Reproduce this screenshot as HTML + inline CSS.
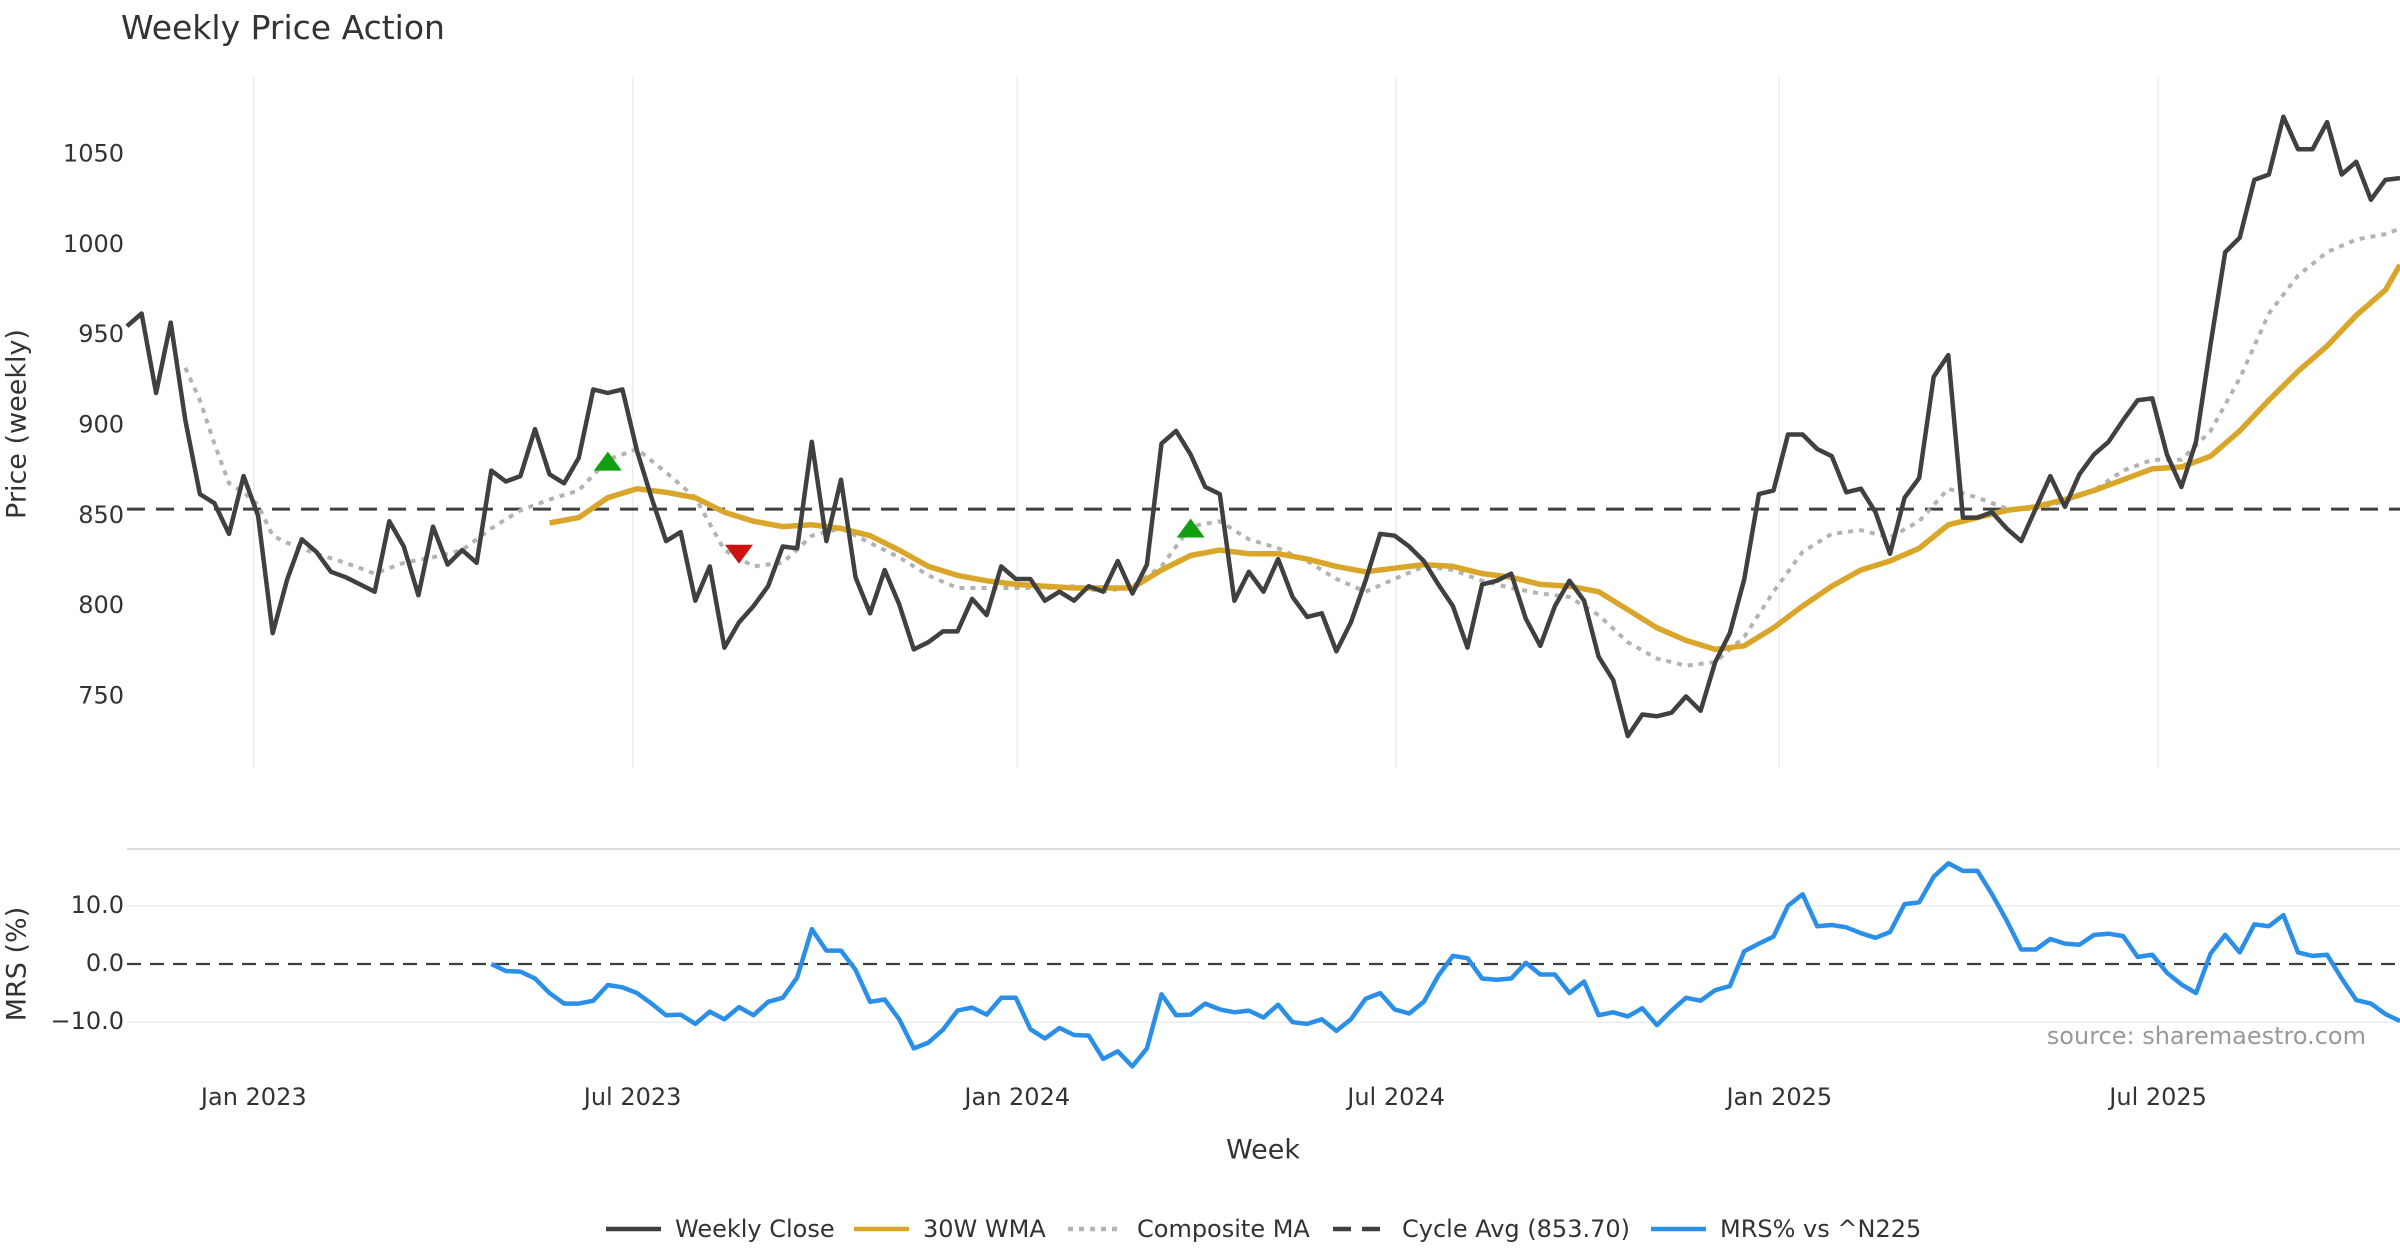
<!DOCTYPE html>
<html><head><meta charset="utf-8"><title>Weekly Price Action</title>
<style>
html,body{margin:0;padding:0;background:#fff;}
svg{display:block;font-family:"DejaVu Sans","Liberation Sans",sans-serif;}
</style></head>
<body>
<svg id="chart" width="2400" height="1260" viewBox="0 0 2400 1260" xmlns="http://www.w3.org/2000/svg">
<rect x="0" y="0" width="2400" height="1260" fill="#fff"/>
<text x="121" y="39" font-size="33" fill="#333">Weekly Price Action</text>
<g id="grid"></g>
<g id="price"></g>
<g id="mrs"></g>
<g id="axes"></g>
<text x="18" y="424" font-size="27" fill="#333" text-anchor="middle" dominant-baseline="middle" transform="rotate(-90 18 424)">Price (weekly)</text>
<text x="18" y="964" font-size="27" fill="#333" text-anchor="middle" dominant-baseline="middle" transform="rotate(-90 18 964)">MRS (%)</text>
<text x="1263" y="1151" font-size="27" fill="#333" text-anchor="middle" dominant-baseline="middle">Week</text>
<text x="2366" y="1037" font-size="24" fill="#999" text-anchor="end" dominant-baseline="middle">source: sharemaestro.com</text>
<g id="legend"></g>
</svg>
<script>
const closes = [955,962,918,957,903,862,857,840,872,850,
785,815,837,830,819,816,812,808,847,833,
806,844,823,831,824,875,869,872,898,873,
868,882,920,918,920,886,860,836,841,803,
822,777,791,800,811,833,832,891,836,870,
816,796,820,801,776,780,786,786,804,795,
822,815,815,803,808,803,811,808,825,807,
823,890,897,884,866,862,803,819,808,826,
805,794,796,775,791,814,840,839,833,825,
812,800,777,812,814,818,793,778,800,814,
803,772,759,728,740,739,741,750,742,769,
785,815,862,864,895,895,887,883,863,865,
852,829,860,871,927,939,849,849,852,843,
836,854,872,855,873,884,891,903,914,915,
884,866,891,945,996,1004,1036,1039,1071,1053,
1053,1068,1039,1046,1025,1036,1037];
const wmaStart = 29;
const wmaStep = 2;
const wma = [846,849,860,865,863,860,852,847,844,845,843,839,831,822,817,814,812,811,810,810,810,820,828,831,829,829,826,822,819,821,823,822,818,816,812,811,808,798,788,781,776,778,788,800,811,820,825,832,845,849,853,855,859,864,870,876,877,883,897,914,930,944,961,975,989];
const compWeeks = [4,5,6,7,8,9,10,11,13,15,17,19,21,23,25,27,29,31,33,35,37,39,41,43,45,47,49,51,53,55,57,59,61,63,65,67,69,71,73,75,77,79,81,83,85,87,89,91,93,95,97,99,101,103,105,107,109,111,113,115,117,119,121,123,125,127,129,131,133,135,137,139,141,143,145,147,149,151,153,155,156];
const compVals = [932,914,890,868,863,856,839,835,829,824,818,824,827,831,843,853,859,864,881,887,874,860,831,822,824,839,843,835,827,817,810,810,810,810,811,808,811,822,844,847,837,832,825,815,808,815,822,820,814,810,807,805,795,780,771,767,769,783,808,830,840,842,838,847,865,860,854,854,858,864,875,881,881,897,926,962,983,996,1003,1006,1009];
const mrsStart = 25;
const mrs = [0,-1.2,-1.3,-2.5,-5,-6.8,-6.8,-6.3,-3.6,-4,-5,-6.8,-8.8,-8.7,-10.3,-8.2,-9.5,-7.4,-8.8,-6.5,-5.8,-2.3,6,2.3,2.3,-1,-6.5,-6.1,-9.5,-14.5,-13.5,-11.3,-8,-7.5,-8.7,-5.8,-5.8,-11.2,-12.8,-11,-12.2,-12.3,-16.3,-15,-17.6,-14.5,-5.2,-8.8,-8.7,-6.8,-7.8,-8.3,-8,-9.2,-7,-10,-10.3,-9.5,-11.5,-9.5,-6,-5,-7.8,-8.5,-6.5,-2,1.4,1,-2.5,-2.7,-2.5,0.2,-1.8,-1.8,-5,-3,-8.8,-8.3,-9,-7.6,-10.5,-8,-5.8,-6.3,-4.5,-3.8,2.2,3.5,4.7,10,12,6.5,6.7,6.3,5.3,4.5,5.5,10.3,10.6,15,17.3,16,16,12,7.5,2.5,2.5,4.3,3.5,3.3,5,5.2,4.8,1.2,1.6,-1.5,-3.5,-5,1.8,5,2,6.8,6.5,8.4,2,1.4,1.6,-2.5,-6.2,-6.8,-8.6,-9.8];
const cycleAvg = 853.70;
const priceTicks = [750,800,850,900,950,1000,1050];
const mrsTicks = [10,0,-10];
const mrsTickLabels = ["10.0","0.0","\u221210.0"];
const dateTickWeeks = [8.7,34.7,61.1,87.1,113.4,139.4];
const dateTickLabels = ["Jan 2023","Jul 2023","Jan 2024","Jul 2024","Jan 2025","Jul 2025"];
const buyWeeks = [33,73];
const buyVals = [880,843];
const sellWeeks = [42];
const sellVals = [829];

const NS = "http://www.w3.org/2000/svg";
const X0 = 127, X1 = 2400, N = closes.length;
function xs(i){ return X0 + i*(X1-X0)/(N-1); }
function yp(v){ return 154.6 + (1050 - v)*1.806; }
function ym(v){ return 964 - v*5.82; }
function mk(tag, attrs, parent){
  const e = document.createElementNS(NS, tag);
  for (const k in attrs) e.setAttribute(k, attrs[k]);
  parent.appendChild(e); return e;
}
const grid = document.getElementById('grid');
const price = document.getElementById('price');
const mrsG = document.getElementById('mrs');
const axes = document.getElementById('axes');
const legend = document.getElementById('legend');

// vertical grid + date labels
dateTickWeeks.forEach((w, k) => {
  const x = xs(w);
  const l = mk('line', {x1:x, x2:x, y1:77, y2:768, stroke:'#ececec', 'stroke-width':1.5}, grid);
  
  
  const t = mk('text', {x:x, y:1098, 'font-size':24, fill:'#333', 'text-anchor':'middle', 'dominant-baseline':'middle'}, axes);
  t.textContent = dateTickLabels[k];
  
  
});
// price ticks
priceTicks.forEach(v => {
  const t = mk('text', {x:124, y:yp(v), 'font-size':24, fill:'#333', 'text-anchor':'end', 'dominant-baseline':'middle'}, axes);
  t.textContent = v;
  
  
});
// mrs panel top spine
const sp = mk('line', {x1:X0, x2:X1, y1:849, y2:849, stroke:'#cfcfcf', 'stroke-width':1.5}, grid);


mrsTicks.forEach((v, k) => {
  if (v !== 0) {
    const g = mk('line', {x1:X0, x2:X1, y1:ym(v), y2:ym(v), stroke:'#ececec', 'stroke-width':1.5}, grid);
    
    
  }
  const t = mk('text', {x:124, y:ym(v), 'font-size':24, fill:'#333', 'text-anchor':'end', 'dominant-baseline':'middle'}, axes);
  t.textContent = mrsTickLabels[k];
  
  
});
const zl = mk('line', {x1:X0, x2:X1, y1:ym(0), y2:ym(0), stroke:'#404040', 'stroke-width':2.3, 'stroke-dasharray':'14,9'}, mrsG);



// cycle avg
const ca = mk('line', {x1:X0, x2:X1, y1:yp(cycleAvg), y2:yp(cycleAvg), stroke:'#404040', 'stroke-width':3, 'stroke-dasharray':'18,11'}, price);



function poly(pts, attrs, parent, name){
  const p = mk('polyline', Object.assign({points: pts.map(p=>p[0].toFixed(1)+','+p[1].toFixed(1)).join(' '), fill:'none', 'stroke-linejoin':'round'}, attrs), parent);
  
  
  return p;
}
poly(compWeeks.map((w,k)=>[xs(w), yp(compVals[k])]), {stroke:'#b3b3b3', 'stroke-width':4, 'stroke-dasharray':'5,6'}, price, 'composite-ma-line');
poly(wma.map((v,k)=>[xs(Math.min(wmaStart + k*wmaStep, N-1)), yp(v)]), {stroke:'#d9a62a', 'stroke-width':5.5}, price, 'wma-30w-line');
poly(closes.map((v,i)=>[xs(i), yp(v)]), {stroke:'#404040', 'stroke-width':4.5}, price, 'weekly-close-line');
poly(mrs.map((v,k)=>[xs(mrsStart + k), ym(v)]), {stroke:'#2a8fe8', 'stroke-width':4.5}, mrsG, 'mrs-line');

buyWeeks.forEach((w,k)=>{
  const x = xs(w), y = yp(buyVals[k]);
  const t = mk('polygon', {points:`${x-14},${y+9} ${x+14},${y+9} ${x},${y-10}`, fill:'#12a012'}, price);
  
  
});
sellWeeks.forEach((w,k)=>{
  const x = xs(w), y = yp(sellVals[k]);
  const t = mk('polygon', {points:`${x-14},${y-9} ${x+14},${y-9} ${x},${y+10}`, fill:'#cc1111'}, price);
  
  
});

// legend
const legendItems = [
  {x:606, label:'Weekly Close', stroke:'#404040', dash:null},
  {x:854, label:'30W WMA', stroke:'#d9a62a', dash:null},
  {x:1068, label:'Composite MA', stroke:'#b3b3b3', dash:'5,6'},
  {x:1333, label:'Cycle Avg (853.70)', stroke:'#404040', dash:'18,11'},
  {x:1651, label:'MRS% vs ^N225', stroke:'#2a8fe8', dash:null}
];
legendItems.forEach(it=>{
  const g = mk('g', {}, legend);
  
  
  const a = {x1:it.x, x2:it.x+55, y1:1229, y2:1229, stroke:it.stroke, 'stroke-width':4.5};
  if (it.dash) a['stroke-dasharray'] = it.dash;
  mk('line', a, g);
  const t = mk('text', {x:it.x+69, y:1230, 'font-size':24, fill:'#333', 'dominant-baseline':'middle'}, g);
  t.textContent = it.label;
});
</script>
</body></html>
